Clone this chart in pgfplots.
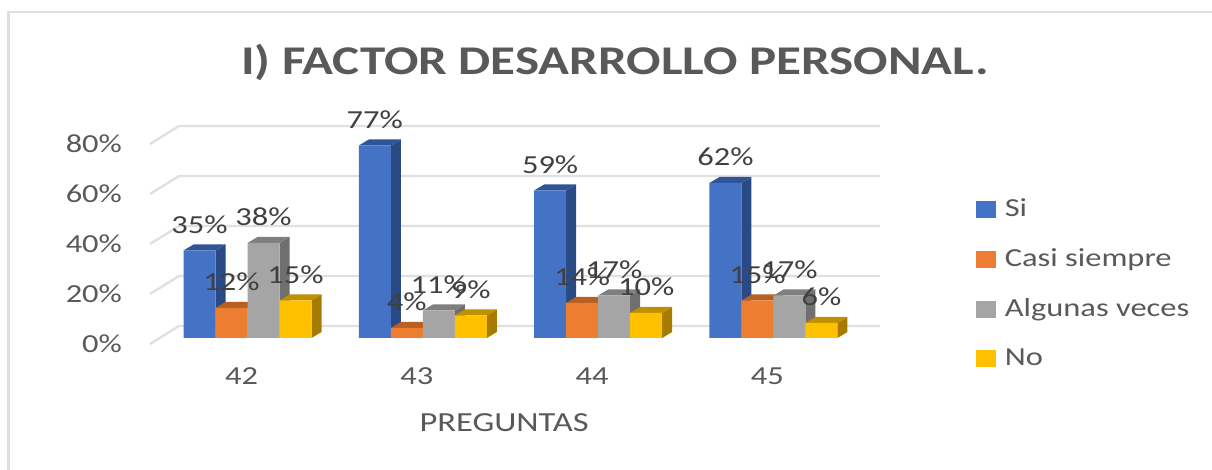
\documentclass[border=0pt]{standalone}
\usepackage{pgfplots}
\pgfplotsset{compat=1.18}
\usepackage{pgfplotstable}
\usepackage{fontspec}
\setmainfont[FakeStretch=1.25]{Carlito}

\definecolor{siF}{HTML}{4472C4}\definecolor{siS}{HTML}{2A4A85}\definecolor{siT}{HTML}{2F5597}
\definecolor{caF}{HTML}{ED7D31}\definecolor{caS}{HTML}{A85A22}\definecolor{caT}{HTML}{B85F22}
\definecolor{alF}{HTML}{A5A5A5}\definecolor{alS}{HTML}{6F6F6F}\definecolor{alT}{HTML}{7F7F7F}
\definecolor{noF}{HTML}{FFC000}\definecolor{noS}{HTML}{A67C00}\definecolor{noT}{HTML}{BF9000}
\definecolor{gridc}{HTML}{E0E0E0}
\definecolor{txt}{HTML}{595959}
\definecolor{lbl}{HTML}{404040}

% 1 px of the reference = 0.5pt here
\pgfplotstableread{
preg si casi algunas no
42 35 12 38 15
43 77 4 11 9
44 59 14 17 10
45 62 15 17 6
}\datos

% side and top faces of one series: x offset in axis units
\newcommand{\caras}[4]{%
  \pgfplotsforeachungrouped \r in {0,1,2,3}{%
    \pgfplotstablegetelem{\r}{preg}\of\datos \let\xc\pgfplotsretval
    \pgfplotstablegetelem{\r}{#1}\of\datos \let\val\pgfplotsretval
    \pgfmathsetmacro\xl{\xc+#2-0.0913}
    \pgfmathsetmacro\xr{\xc+#2+0.0913}
    \pgfmathsetmacro\xll{\xl+0.057}
    \pgfmathsetmacro\xrr{\xr+0.057}
    \pgfmathsetmacro\vv{\val+2.4}
    \addplot[forget plot, yshift=3pt, draw=none, fill=#3]
      coordinates {(\xr,0) (\xrr,2.4) (\xrr,\vv) (\xr,\val)} --cycle;
    \addplot[forget plot, yshift=3pt, draw=none, fill=#4]
      coordinates {(\xl,\val) (\xll,\vv) (\xrr,\vv) (\xr,\val)} --cycle;
  }%
}
\newcommand{\frente}[3]{%
  \addplot[forget plot, ybar, bar width=16pt, bar shift=#2, yshift=3pt, draw=none, fill=#3]
    table[x=preg, y=#1] {\datos};
}
\newcommand{\rotulos}[2]{%
  \addplot[forget plot, only marks, mark=none, yshift=3pt,
    /pgf/number format/assume math mode=true,
    nodes near coords={\pgfmathprintnumber{\pgfplotspointmeta}\%},
    every node near coord/.append style={anchor=center, yshift=13pt, text=lbl, font=\fontsize{13}{13}\selectfont}]
    table[x expr=\thisrow{preg}+#2, y=#1] {\datos};
}
\newcommand{\rejilla}[2]{%
  \addplot[forget plot, gridc, line width=1.2pt] coordinates {(41.478,#1) (41.6435,#2) (45.642,#2)};
}

\begin{document}
\begin{tikzpicture}[x=1pt, y=1pt]
\path[use as bounding box] (0,0) rectangle (606,235);
\draw[color=gridc, line width=1.2pt] (4.2,0) -- (4.2,229) -- (606,229);
\node[text=txt, font=\fontsize{20.4}{20.4}\selectfont\bfseries] at (307.5,204) {I) FACTOR DESARROLLO PERSONAL.};
\begin{axis}[
  at={(75pt,63pt)}, anchor=south west,
  scale only axis, width=365pt, height=110pt,
  xmin=41.478, xmax=45.642, ymin=0, ymax=88,
  clip=false,
  axis line style={draw=none},
  tick style={draw=none},
  xtick={42,43,44,45},
  xticklabels={42,43,44,45},
  ytick={0,20,40,60,80},
  yticklabel={\pgfmathparse{int(\tick)}\pgfmathresult\%},
  xticklabel style={anchor=center, yshift=-16pt, text=txt, font=\fontsize{13}{13}\selectfont},
  yticklabel style={anchor=east, xshift=-10.5pt, text=txt, font=\fontsize{13}{13}\selectfont},
  xlabel={PREGUNTAS},
  xlabel style={at={(axis description cs:0.485,-0.359)}, anchor=center, text=txt, font=\fontsize{13.8}{13.8}\selectfont},
  legend style={at={(413pt,74.5pt)}, anchor=north west, draw=none, fill=none,
    font=\fontsize{13}{13}\selectfont, text=txt, row sep=10.5pt, inner sep=0pt, outer sep=0pt,
    /tikz/column 1/.style={column sep=2.5pt}},
  legend cell align=left,
]
\addlegendimage{legend image code/.code={\fill[siF] (0pt,-4pt) rectangle (9.5pt,4pt);}}
\addlegendentry{Si}
\addlegendimage{legend image code/.code={\fill[caF] (0pt,-4pt) rectangle (9.5pt,4pt);}}
\addlegendentry{Casi siempre}
\addlegendimage{legend image code/.code={\fill[alF] (0pt,-4pt) rectangle (9.5pt,4pt);}}
\addlegendentry{Algunas veces}
\addlegendimage{legend image code/.code={\fill[noF] (0pt,-4pt) rectangle (9.5pt,4pt);}}
\addlegendentry{No}

\rejilla{0}{7.2}
\rejilla{20}{27.2}
\rejilla{40}{47.2}
\rejilla{60}{67.2}
\rejilla{80}{87.2}

\caras{si}{-0.2396}{siS}{siT}
\frente{si}{-21pt}{siF}
\caras{casi}{-0.0571}{caS}{caT}
\frente{casi}{-5pt}{caF}
\caras{algunas}{0.1255}{alS}{alT}
\frente{algunas}{11pt}{alF}
\caras{no}{0.3081}{noS}{noT}
\frente{no}{27pt}{noF}

\rotulos{si}{-0.2396}
\rotulos{casi}{-0.0571}
\rotulos{algunas}{0.1255}
\rotulos{no}{0.3081}
\end{axis}
\end{tikzpicture}
\end{document}
